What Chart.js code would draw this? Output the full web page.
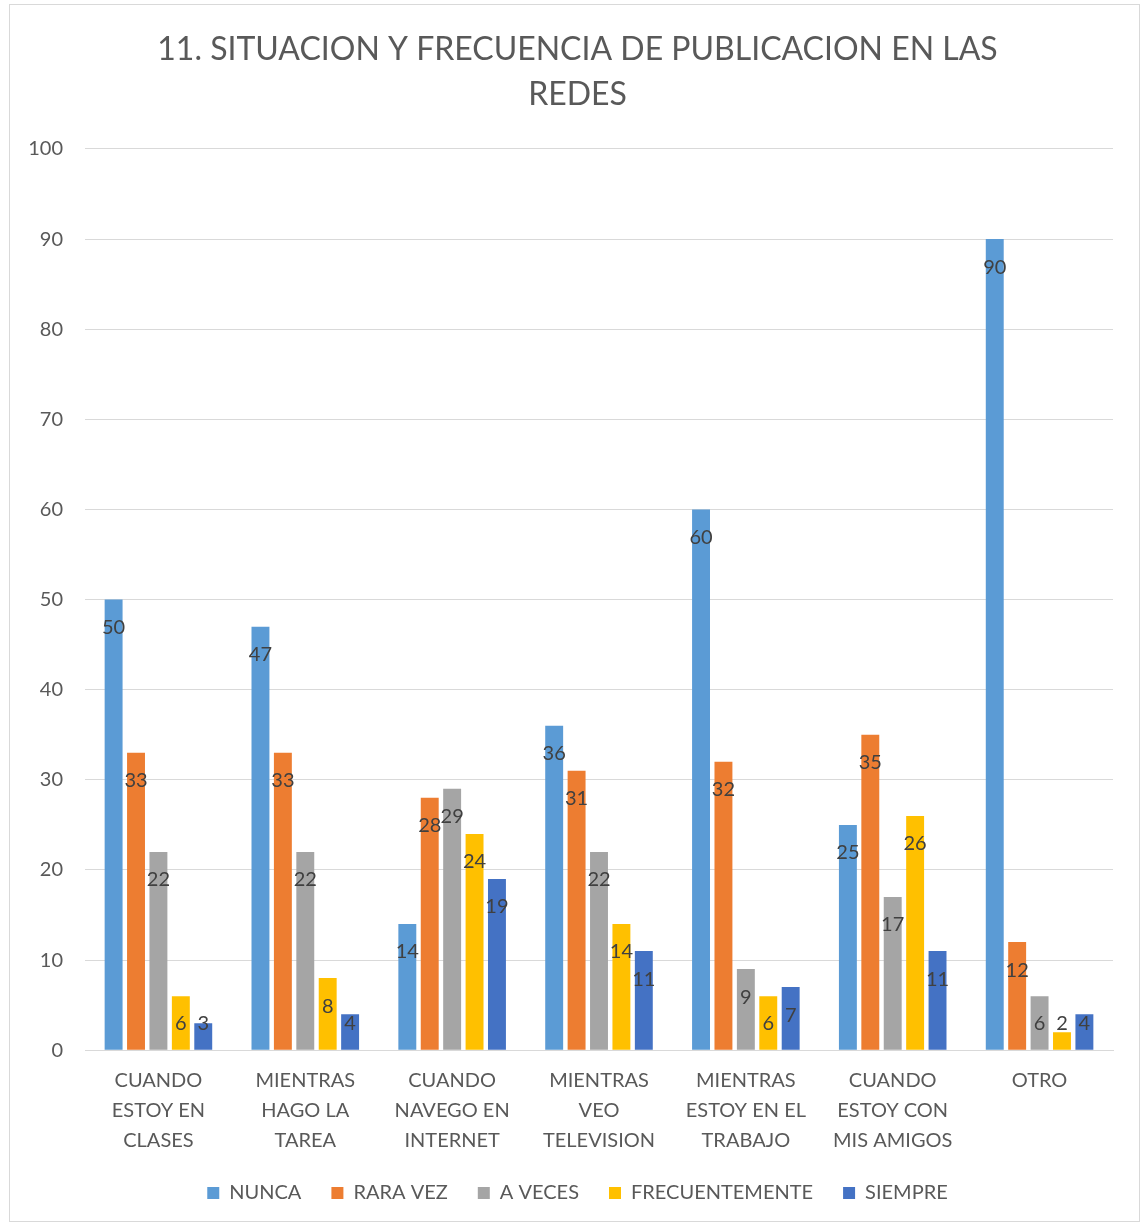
<!DOCTYPE html>
<html>
<head>
<meta charset="utf-8">
<script src="https://cdn.jsdelivr.net/npm/chart.js@4/dist/chart.umd.min.js"></script>
<style>
  html, body { margin: 0; padding: 0; background: #fff; }
  #wrap { position: absolute; left: 0; top: 0; width: 1143px; height: 1225px; }
  #frame { position: absolute; left: 9px; top: 4px; width: 1131px; height: 1218px; border: 1px solid #d9d9d9; box-sizing: border-box; pointer-events: none; }
</style>
</head>
<body>
<div id="wrap"><canvas id="c" width="1143" height="1225"></canvas><div id="frame"></div></div>
<script>
const categories = [
  ["CUANDO", "ESTOY EN", "CLASES"],
  ["MIENTRAS", "HAGO LA", "TAREA"],
  ["CUANDO", "NAVEGO EN", "INTERNET"],
  ["MIENTRAS", "VEO", "TELEVISION"],
  ["MIENTRAS", "ESTOY EN EL", "TRABAJO"],
  ["CUANDO", "ESTOY CON", "MIS AMIGOS"],
  ["OTRO"]
];
const seriesNames = ["NUNCA", "RARA VEZ", "A VECES", "FRECUENTEMENTE", "SIEMPRE"];
const nunca = [50, 47, 14, 36, 60, 25, 90];
const raraVez = [33, 33, 28, 31, 32, 35, 12];
const aVeces = [22, 22, 29, 22, 9, 17, 6];
const frecuentemente = [6, 8, 24, 14, 6, 26, 2];
const siempre = [3, 4, 19, 11, 7, 11, 4];
const seriesColors = ["#5B9BD5", "#ED7D31", "#A5A5A5", "#FFC000", "#4472C4"];
const titleLines = ["11. SITUACION Y FRECUENCIA DE PUBLICACION EN LAS", "REDES"];
const yMin = 0, yMax = 100, yStep = 10;

const FONT = "Lato, 'Liberation Sans', sans-serif";
const allSeries = [nunca, raraVez, aVeces, frecuentemente, siempre];

const labelPlugin = {
  id: 'barLabels',
  afterDatasetsDraw(chart) {
    const ctx = chart.ctx;
    ctx.save();
    ctx.font = "20px " + FONT;
    ctx.fillStyle = "#404040";
    ctx.textAlign = "center";
    ctx.textBaseline = "middle";
    chart.data.datasets.forEach((ds, di) => {
      const meta = chart.getDatasetMeta(di);
      meta.data.forEach((el, i) => {
        const y = Math.min(el.y + 28, el.base - 26);
        ctx.fillText(String(ds.data[i]), el.x, y);
      });
    });
    ctx.restore();
  }
};

new Chart(document.getElementById('c'), {
  type: 'bar',
  data: {
    labels: categories,
    datasets: seriesNames.map((n, i) => ({
      label: n,
      data: allSeries[i],
      backgroundColor: seriesColors[i],
      borderWidth: 0,
      categoryPercentage: 0.763,
      barPercentage: 0.8
    }))
  },
  options: {
    responsive: false,
    animation: false,
    devicePixelRatio: 1,
    layout: { padding: { left: 16, right: 4, top: 8, bottom: 12 } },
    plugins: {
      title: {
        display: true,
        text: titleLines,
        color: "#595959",
        font: { family: FONT, size: 32, weight: 'normal', lineHeight: 1.406 },
        padding: { top: 19.5, bottom: 31.5 }
      },
      legend: {
        position: 'bottom',
        labels: {
          color: "#595959",
          font: { family: FONT, size: 20 },
          boxWidth: 12,
          boxHeight: 12,
          padding: 30
        }
      },
      tooltip: { enabled: false }
    },
    scales: {
      x: {
        grid: { display: false, drawTicks: false },
        border: { display: true, color: "#d9d9d9", width: 1 },
        ticks: {
          color: "#595959",
          font: { family: FONT, size: 20, lineHeight: 1.48 },
          maxRotation: 0,
          autoSkip: false,
          padding: 16
        },
        afterFit(s) { s.height = s.height - 18; }
      },
      y: {
        min: yMin, max: yMax,
        grid: { color: "#d9d9d9", lineWidth: 1, drawTicks: false },
        border: { display: false },
        ticks: {
          stepSize: yStep,
          color: "#595959",
          font: { family: FONT, size: 20 },
          padding: 22
        },
        afterFit(s) { s.width = 69; }
      },
      yRight: {
        position: 'right',
        min: yMin, max: yMax,
        grid: { display: false, drawTicks: false },
        border: { display: false },
        ticks: { display: false },
        afterFit(s) { s.width = 26; }
      }
    }
  },
  plugins: [labelPlugin]
});
</script>
</body>
</html>
